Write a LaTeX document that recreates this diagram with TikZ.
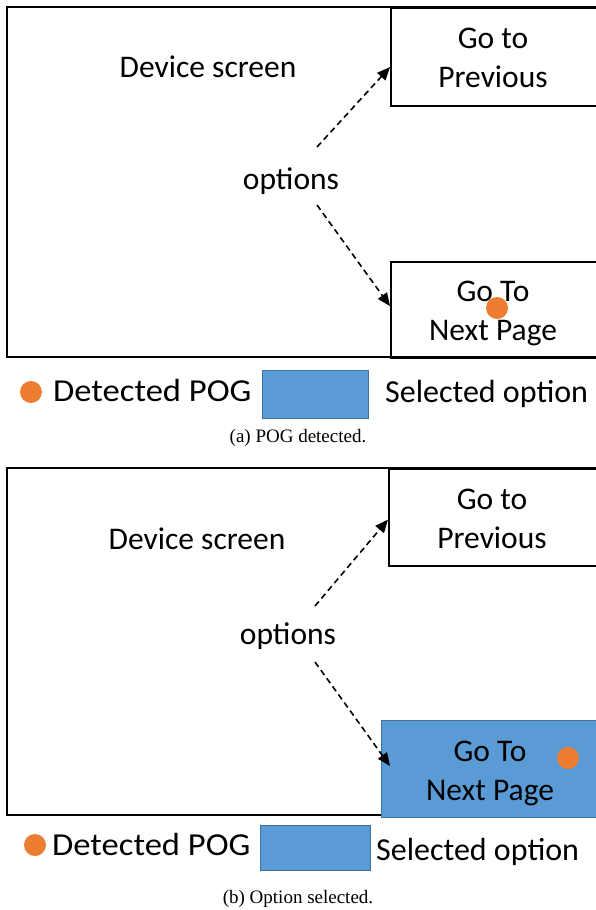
\documentclass[tikz,border=0pt]{standalone}
\usepackage{fontspec}
\usepackage{graphicx}
\setmainfont{Carlito}
\newfontfamily\capfont{Liberation Serif}
\usetikzlibrary{arrows.meta}
\definecolor{pogorange}{HTML}{ED7D31}
\definecolor{selblue}{HTML}{5B9BD5}
\definecolor{selblueedge}{HTML}{41719C}

\begin{document}
\begin{tikzpicture}[x=1pt,y=-1pt,
  lbl/.style={font=\fontsize{31.5}{39}\selectfont, inner sep=0pt, align=center},
  legendtext/.style={font=\fontsize{32}{38}\selectfont, inner sep=0pt, anchor=base west},
  caption/.style={font=\capfont\fontsize{19}{22}\selectfont, inner sep=0pt, anchor=base},
  frame/.style={draw, line width=2.6pt},
  optbox/.style={draw, line width=2.2pt, anchor=north west, inner sep=0pt},
  selbox/.style={draw=selblueedge, fill=selblue, line width=1pt, anchor=north west, inner sep=0pt},
  pog/.style={circle, fill=pogorange, minimum size=22pt, inner sep=0pt},
  link/.style={line width=1.6pt, dash pattern=on 6pt off 4pt,
    -{Triangle[length=13pt,width=11pt]}}]

\clip (0,0) rectangle (596,910);

% ---------- (a) POG detected ----------
\draw[frame] (7,7) rectangle (640,357);
\node[optbox, minimum width=250pt, minimum height=98pt] (prevA) at (390,7) {};
\node[optbox, minimum width=250pt, minimum height=96pt] (nextA) at (390,261) {};

\node[lbl] (screenA) at (208,67) {Device screen};
\node[lbl] (prevtxtA) at (493,58) {Go to\\Previous};
\node[lbl] (nexttxtA) at (493,313) {Go To\\Next Page};
\node[lbl] (optsA) at (291,181) {options};

\coordinate (upA) at (317,147);
\coordinate (downA) at (317,205);
\draw[link] (upA) -- ([yshift=-10pt]prevA.west);
\draw[link] (downA) -- ([yshift=4pt]nextA.west);

\node[pog] (dotA) at (497,308) {};

% legend (a)
\node[pog] (legdotA) at (31,392) {};
\node[legendtext] (legpogA) at (53,401) {\scalebox{1.08}[1]{Detected POG}};
\node[selbox, minimum width=106pt, minimum height=48pt] (legselA) at (262,370) {};
\node[legendtext] (legseltxtA) at (385,402) {Selected option};

\node[caption] (capA) at (298,442) {(a) POG detected.};

% ---------- (b) Option selected ----------
\draw[frame] (7,468) rectangle (640,815);
\node[optbox, minimum width=250pt, minimum height=97pt] (prevB) at (388,468) {};
\node[selbox, minimum width=250pt, minimum height=97pt] (nextB) at (381,720) {};

\node[lbl] (screenB) at (197,539) {Device screen};
\node[lbl] (prevtxtB) at (492,519) {Go to\\Previous};
\node[lbl] (nexttxtB) at (490,773) {Go To\\Next Page};
\node[lbl] (optsB) at (288,636) {options};

\coordinate (upB) at (315,606);
\coordinate (downB) at (315,662);
\draw[link] (upB) -- ([yshift=-2pt]prevB.west);
\draw[link] (downB) -- ([yshift=3pt, xshift=9pt]nextB.west);

\node[pog] (dotB) at (568,758) {};

% legend (b)
\node[pog] (legdotB) at (35,845) {};
\node[legendtext] (legpogB) at (52,855) {\scalebox{1.08}[1]{Detected POG}};
\node[selbox, minimum width=110pt, minimum height=45pt] (legselB) at (260,825) {};
\node[legendtext] (legseltxtB) at (376,860) {Selected option};

\node[caption] (capB) at (298,903) {(b) Option selected.};
\end{tikzpicture}
\end{document}
